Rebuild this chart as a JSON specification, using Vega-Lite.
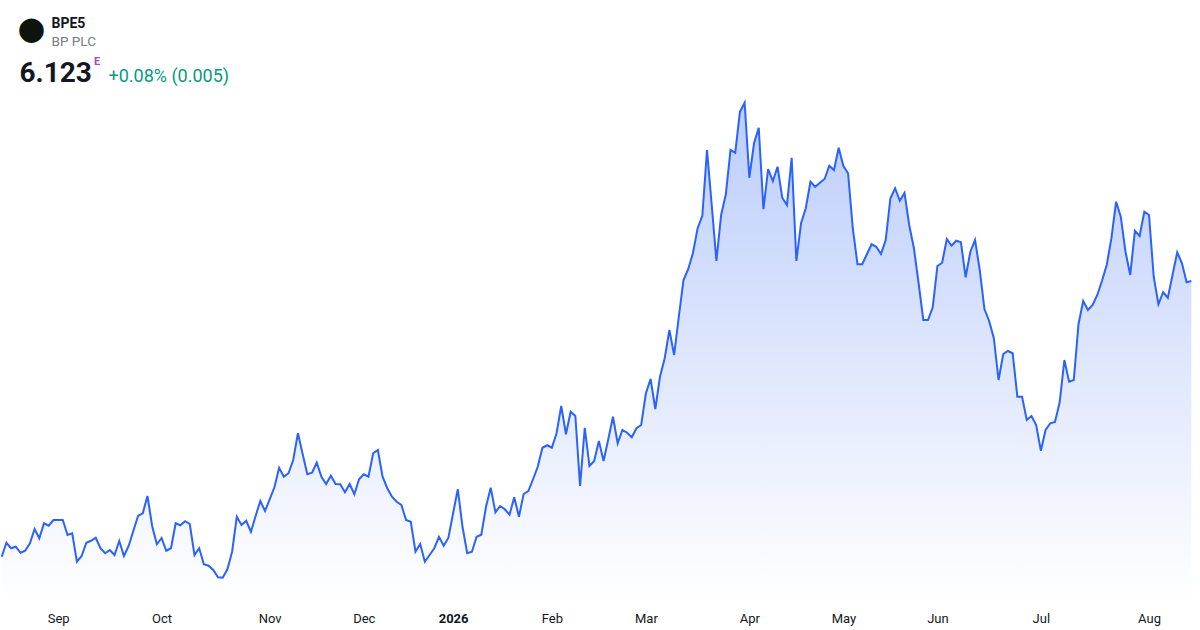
{
  "$schema": "https://vega.github.io/schema/vega-lite/v6.json",
  "width": 1192,
  "height": 602,
  "padding": {"top": 0, "left": 0, "right": 8, "bottom": 28},
  "autosize": {"type": "none"},
  "background": "#ffffff",
  "title": {
    "text": "BPE5",
    "subtitle": "BP PLC",
    "anchor": "start",
    "frame": "group",
    "orient": "top",
    "offset": 0,
    "dx": 51.5,
    "dy": 48,
    "font": "Roboto",
    "fontSize": 14,
    "fontWeight": "bold",
    "color": "#131722",
    "subtitleFont": "Roboto",
    "subtitleFontSize": 13.5,
    "subtitleColor": "#787b86",
    "subtitlePadding": 4
  },
  "datasets": {
    "prices": [
      {"d":0,"p":5.020},{"d":1,"p":5.076},{"d":2,"p":5.054},{"d":3,"p":5.060},{"d":4,"p":5.036},
      {"d":5,"p":5.044},{"d":6,"p":5.074},{"d":7,"p":5.131},{"d":8,"p":5.094},{"d":9,"p":5.154},
      {"d":10,"p":5.144},{"d":11,"p":5.167},{"d":12,"p":5.167},{"d":13,"p":5.167},{"d":14,"p":5.107},
      {"d":15,"p":5.114},{"d":16,"p":5.000},{"d":17,"p":5.023},{"d":18,"p":5.076},{"d":19,"p":5.084},
      {"d":20,"p":5.096},{"d":21,"p":5.054},{"d":22,"p":5.034},{"d":23,"p":5.047},{"d":24,"p":5.027},
      {"d":25,"p":5.083},{"d":26,"p":5.023},{"d":27,"p":5.063},{"d":28,"p":5.124},{"d":29,"p":5.183},
      {"d":30,"p":5.194},{"d":31,"p":5.263},{"d":32,"p":5.143},{"d":33,"p":5.070},{"d":34,"p":5.095},
      {"d":35,"p":5.044},{"d":36,"p":5.054},{"d":37,"p":5.154},{"d":38,"p":5.146},{"d":39,"p":5.162},
      {"d":40,"p":5.151},{"d":41,"p":5.027},{"d":42,"p":5.054},{"d":43,"p":4.990},{"d":44,"p":4.984},
      {"d":45,"p":4.967},{"d":46,"p":4.938},{"d":47,"p":4.936},{"d":48,"p":4.970},{"d":49,"p":5.040},
      {"d":50,"p":5.180},{"d":51,"p":5.147},{"d":52,"p":5.164},{"d":53,"p":5.120},{"d":54,"p":5.183},
      {"d":55,"p":5.243},{"d":56,"p":5.203},{"d":57,"p":5.250},{"d":58,"p":5.298},{"d":59,"p":5.376},
      {"d":60,"p":5.340},{"d":61,"p":5.354},{"d":62,"p":5.407},{"d":63,"p":5.514},{"d":64,"p":5.431},
      {"d":65,"p":5.350},{"d":66,"p":5.356},{"d":67,"p":5.396},{"d":68,"p":5.340},{"d":69,"p":5.311},
      {"d":70,"p":5.344},{"d":71,"p":5.311},{"d":72,"p":5.310},{"d":73,"p":5.278},{"d":74,"p":5.311},
      {"d":75,"p":5.270},{"d":76,"p":5.330},{"d":77,"p":5.350},{"d":78,"p":5.340},{"d":79,"p":5.434},
      {"d":80,"p":5.447},{"d":81,"p":5.340},{"d":82,"p":5.294},{"d":83,"p":5.260},{"d":84,"p":5.240},
      {"d":85,"p":5.227},{"d":86,"p":5.167},{"d":87,"p":5.160},{"d":88,"p":5.040},{"d":89,"p":5.071},
      {"d":90,"p":5.000},{"d":91,"p":5.027},{"d":92,"p":5.054},{"d":93,"p":5.100},{"d":94,"p":5.064},
      {"d":95,"p":5.096},{"d":96,"p":5.194},{"d":97,"p":5.290},{"d":98,"p":5.140},{"d":99,"p":5.034},
      {"d":100,"p":5.040},{"d":101,"p":5.100},{"d":102,"p":5.108},{"d":103,"p":5.220},{"d":104,"p":5.296},
      {"d":105,"p":5.198},{"d":106,"p":5.223},{"d":107,"p":5.210},{"d":108,"p":5.188},{"d":109,"p":5.258},
      {"d":110,"p":5.180},{"d":111,"p":5.271},{"d":112,"p":5.283},{"d":113,"p":5.330},{"d":114,"p":5.380},
      {"d":115,"p":5.456},{"d":116,"p":5.466},{"d":117,"p":5.456},{"d":118,"p":5.514},{"d":119,"p":5.623},
      {"d":120,"p":5.510},{"d":121,"p":5.600},{"d":122,"p":5.583},{"d":123,"p":5.303},{"d":124,"p":5.536},
      {"d":125,"p":5.383},{"d":126,"p":5.403},{"d":127,"p":5.483},{"d":128,"p":5.403},{"d":129,"p":5.490},
      {"d":130,"p":5.580},{"d":131,"p":5.474},{"d":132,"p":5.527},{"d":133,"p":5.516},{"d":134,"p":5.498},
      {"d":135,"p":5.534},{"d":136,"p":5.547},{"d":137,"p":5.674},{"d":138,"p":5.731},{"d":139,"p":5.611},
      {"d":140,"p":5.740},{"d":141,"p":5.814},{"d":142,"p":5.927},{"d":143,"p":5.827},{"d":144,"p":5.980},
      {"d":145,"p":6.127},{"d":146,"p":6.170},{"d":147,"p":6.234},{"d":148,"p":6.334},{"d":149,"p":6.384},
      {"d":150,"p":6.647},{"d":151,"p":6.427},{"d":152,"p":6.203},{"d":153,"p":6.387},{"d":154,"p":6.470},
      {"d":155,"p":6.647},{"d":156,"p":6.636},{"d":157,"p":6.800},{"d":158,"p":6.836},{"d":159,"p":6.536},
      {"d":160,"p":6.674},{"d":161,"p":6.736},{"d":162,"p":6.410},{"d":163,"p":6.571},{"d":164,"p":6.523},
      {"d":165,"p":6.580},{"d":166,"p":6.456},{"d":167,"p":6.427},{"d":168,"p":6.616},{"d":169,"p":6.203},
      {"d":170,"p":6.354},{"d":171,"p":6.414},{"d":172,"p":6.520},{"d":173,"p":6.500},{"d":174,"p":6.516},
      {"d":175,"p":6.531},{"d":176,"p":6.584},{"d":177,"p":6.567},{"d":178,"p":6.656},{"d":179,"p":6.583},
      {"d":180,"p":6.554},{"d":181,"p":6.334},{"d":182,"p":6.190},{"d":183,"p":6.190},{"d":184,"p":6.230},
      {"d":185,"p":6.270},{"d":186,"p":6.260},{"d":187,"p":6.231},{"d":188,"p":6.287},{"d":189,"p":6.454},
      {"d":190,"p":6.494},{"d":191,"p":6.444},{"d":192,"p":6.475},{"d":193,"p":6.347},{"d":194,"p":6.254},
      {"d":195,"p":6.114},{"d":196,"p":5.967},{"d":197,"p":5.967},{"d":198,"p":6.018},{"d":199,"p":6.183},
      {"d":200,"p":6.196},{"d":201,"p":6.291},{"d":202,"p":6.264},{"d":203,"p":6.284},{"d":204,"p":6.278},
      {"d":205,"p":6.138},{"d":206,"p":6.240},{"d":207,"p":6.287},{"d":208,"p":6.167},{"d":209,"p":6.011},
      {"d":210,"p":5.963},{"d":211,"p":5.894},{"d":212,"p":5.727},{"d":213,"p":5.831},{"d":214,"p":5.843},
      {"d":215,"p":5.834},{"d":216,"p":5.660},{"d":217,"p":5.660},{"d":218,"p":5.567},{"d":219,"p":5.583},
      {"d":220,"p":5.547},{"d":221,"p":5.444},{"d":222,"p":5.527},{"d":223,"p":5.554},{"d":224,"p":5.559},
      {"d":225,"p":5.638},{"d":226,"p":5.807},{"d":227,"p":5.720},{"d":228,"p":5.727},{"d":229,"p":5.950},
      {"d":230,"p":6.043},{"d":231,"p":6.007},{"d":232,"p":6.027},{"d":233,"p":6.067},{"d":234,"p":6.124},
      {"d":235,"p":6.187},{"d":236,"p":6.294},{"d":237,"p":6.440},{"d":238,"p":6.380},{"d":239,"p":6.240},
      {"d":240,"p":6.147},{"d":241,"p":6.324},{"d":242,"p":6.303},{"d":243,"p":6.400},{"d":244,"p":6.387},
      {"d":245,"p":6.140},{"d":246,"p":6.030},{"d":247,"p":6.078},{"d":248,"p":6.056},{"d":249,"p":6.147},
      {"d":250,"p":6.238},{"d":251,"p":6.194},{"d":252,"p":6.118},{"d":253,"p":6.123}
    ]
  },
  "data": {"name": "prices"},
  "layer": [
    {
      "mark": {
        "type": "area",
        "interpolate": "linear",
        "opacity": 1,
        "color": {
          "gradient": "linear",
          "x1": 0, "y1": 0, "x2": 0, "y2": 1,
          "stops": [
            {"offset": 0, "color": "#bccdfb"},
            {"offset": 1, "color": "#ffffff"}
          ]
        }
      },
      "encoding": {
        "x": {
          "field": "d",
          "type": "quantitative",
          "scale": {"domain": [-0.36, 253.14], "nice": false, "zero": false},
          "axis": {
            "orient": "bottom",
            "values": [12, 34, 57, 77, 96, 117, 137, 159, 179, 199, 221, 244],
            "labelExpr": "['Sep','Oct','Nov','Dec','2026','Feb','Mar','Apr','May','Jun','Jul','Aug'][indexof([12,34,57,77,96,117,137,159,179,199,221,244], datum.value)]",
            "labelFontWeight": {"condition": {"test": "datum.value == 96", "value": "bold"}, "value": "normal"},
            "labelFont": "Roboto",
            "labelFontSize": 13,
            "labelColor": "#131722",
            "labelPadding": 10,
            "labelOverlap": false,
            "labelFlush": false,
            "labelBound": false,
            "ticks": false,
            "domain": false,
            "grid": false,
            "minExtent": 0,
            "title": "●",
            "titleFont": "DejaVu Sans",
            "titleFontSize": 32,
            "titleFontWeight": "normal",
            "titleColor": "#0d130e",
            "titleAlign": "center",
            "titleBaseline": "middle",
            "titleX": 31,
            "titleY": -574
          }
        },
        "y": {
          "field": "p",
          "type": "quantitative",
          "scale": {"domain": [4.839, 7.247], "nice": false, "zero": false},
          "axis": {
            "orient": "left",
            "labels": false,
            "ticks": false,
            "domain": false,
            "grid": false,
            "minExtent": 0,
            "title": "6.123",
            "titleAngle": 0,
            "titleAlign": "left",
            "titleBaseline": "alphabetic",
            "titleX": 19,
            "titleY": 81,
            "titleFont": "Roboto",
            "titleFontSize": 28,
            "titleFontWeight": "bold",
            "titleColor": "#131722"
          }
        },
        "y2": {"datum": 4.839}
      }
    },
    {
      "mark": {"type": "line", "interpolate": "linear", "color": "#2962ff", "strokeWidth": 2},
      "encoding": {
        "x": {
          "field": "d",
          "type": "quantitative",
          "scale": {"domain": [-0.36, 253.14], "nice": false, "zero": false},
          "axis": {
            "orient": "top",
            "labels": false,
            "ticks": false,
            "domain": false,
            "grid": false,
            "minExtent": 0,
            "title": "E",
            "titleFont": "Roboto",
            "titleFontSize": 11,
            "titleFontWeight": "bold",
            "titleColor": "#ab47bc",
            "titleAlign": "left",
            "titleBaseline": "alphabetic",
            "titleX": 93.5,
            "titleY": 64.5
          }
        },
        "y": {
          "field": "p",
          "type": "quantitative",
          "scale": {"domain": [4.839, 7.247], "nice": false, "zero": false},
          "axis": {
            "orient": "right",
            "labels": false,
            "ticks": false,
            "domain": false,
            "grid": false,
            "minExtent": 0,
            "title": "+0.08% (0.005)",
            "titleAngle": 0,
            "titleAlign": "left",
            "titleBaseline": "alphabetic",
            "titleX": -1084,
            "titleY": 81,
            "titleFont": "Roboto",
            "titleFontSize": 18,
            "titleFontWeight": "normal",
            "titleColor": "#089981"
          }
        }
      }
    }
  ],
  "resolve": {"scale": {"x": "independent", "y": "independent"}},
  "config": {
    "view": {"stroke": null},
    "axis": {"grid": false}
  }
}
